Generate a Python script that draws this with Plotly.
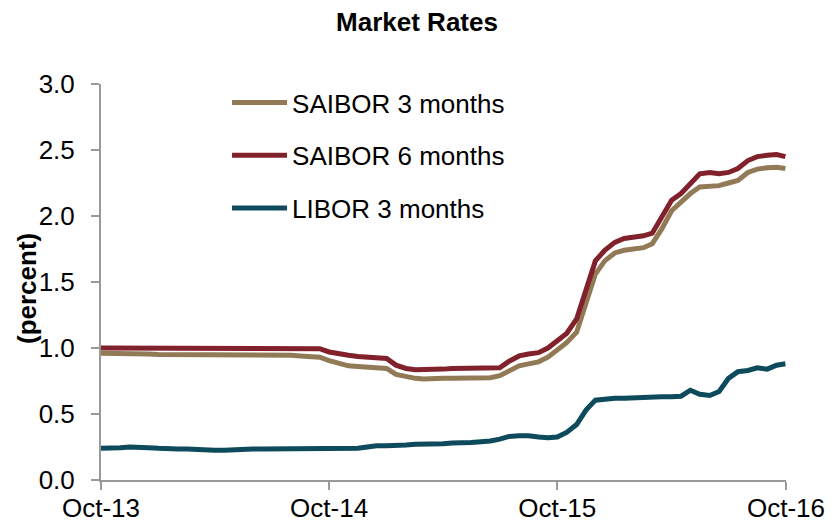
import plotly.graph_objects as go

dates = [
    "2013-10-01", "2013-10-16", "2013-11-01", "2013-11-16", "2013-12-01", "2013-12-16",
    "2014-01-01", "2014-01-16", "2014-02-01", "2014-02-16", "2014-03-01", "2014-03-16",
    "2014-04-01", "2014-04-16", "2014-05-01", "2014-05-16", "2014-06-01", "2014-06-16",
    "2014-07-01", "2014-07-16", "2014-08-01", "2014-08-16", "2014-09-01", "2014-09-16",
    "2014-10-01", "2014-10-16", "2014-11-01", "2014-11-16", "2014-12-01", "2014-12-16",
    "2015-01-01", "2015-01-16", "2015-02-01", "2015-02-16", "2015-03-01", "2015-03-16",
    "2015-04-01", "2015-04-16", "2015-05-01", "2015-05-16", "2015-06-01", "2015-06-16",
    "2015-07-01", "2015-07-16", "2015-08-01", "2015-08-16", "2015-09-01", "2015-09-16",
    "2015-10-01", "2015-10-16", "2015-11-01", "2015-11-16", "2015-12-01", "2015-12-16",
    "2016-01-01", "2016-01-16", "2016-02-01", "2016-02-16", "2016-03-01", "2016-03-16",
    "2016-04-01", "2016-04-16", "2016-05-01", "2016-05-16", "2016-06-01", "2016-06-16",
    "2016-07-01", "2016-07-16", "2016-08-01", "2016-08-16", "2016-09-01", "2016-09-16",
    "2016-09-30",
]

saibor_3m = [
    0.96, 0.96, 0.96, 0.96, 0.955, 0.955,
    0.95, 0.95, 0.95, 0.95, 0.95, 0.95,
    0.95, 0.95, 0.95, 0.95, 0.95, 0.95,
    0.95, 0.945, 0.945, 0.94, 0.935, 0.93,
    0.905, 0.885, 0.865, 0.86, 0.855, 0.855,
    0.845, 0.80, 0.78, 0.77, 0.765, 0.77,
    0.77, 0.77, 0.77, 0.775, 0.775, 0.775,
    0.79, 0.83, 0.865, 0.88, 0.895, 0.93,
    0.985, 1.04, 1.12, 1.35, 1.56, 1.66,
    1.72, 1.74, 1.75, 1.76, 1.79, 1.90,
    2.04, 2.11, 2.17, 2.22, 2.23, 2.23,
    2.25, 2.27, 2.33, 2.355, 2.365, 2.37,
    2.36,
]

saibor_6m = [
    1.00, 1.00, 1.00, 1.00, 1.00, 1.00,
    1.00, 1.00, 1.00, 1.00, 1.00, 1.00,
    1.00, 1.00, 1.00, 1.00, 1.00, 1.00,
    1.00, 1.00, 1.00, 1.00, 1.00, 0.995,
    0.97, 0.955, 0.945, 0.935, 0.93, 0.93,
    0.92, 0.87, 0.845, 0.835, 0.835, 0.84,
    0.84, 0.845, 0.845, 0.845, 0.845, 0.845,
    0.85, 0.90, 0.94, 0.955, 0.965, 1.00,
    1.06, 1.11, 1.22, 1.45, 1.66, 1.74,
    1.80, 1.83, 1.84, 1.85, 1.87, 1.99,
    2.12, 2.17, 2.25, 2.32, 2.33, 2.32,
    2.33, 2.36, 2.42, 2.45, 2.46, 2.465,
    2.45,
]

libor_3m = [
    0.24, 0.24, 0.245, 0.25, 0.25, 0.245,
    0.24, 0.235, 0.235, 0.235, 0.23, 0.23,
    0.225, 0.225, 0.23, 0.23, 0.235, 0.235,
    0.235, 0.235, 0.235, 0.235, 0.235, 0.235,
    0.235, 0.24, 0.24, 0.24, 0.25, 0.26,
    0.26, 0.26, 0.265, 0.27, 0.27, 0.275,
    0.275, 0.28, 0.28, 0.285, 0.29, 0.295,
    0.31, 0.33, 0.335, 0.335, 0.325, 0.32,
    0.325, 0.36, 0.42, 0.53, 0.605, 0.615,
    0.62, 0.62, 0.625, 0.63, 0.63, 0.63,
    0.63, 0.635, 0.68, 0.65, 0.64, 0.67,
    0.77, 0.82, 0.83, 0.85, 0.84, 0.87,
    0.88,
]

tick_dates = ["2013-10-01", "2014-10-01", "2015-10-01", "2016-10-01"]
tick_labels = ["Oct-13", "Oct-14", "Oct-15", "Oct-16"]

FONT = "Liberation Sans, Arial, sans-serif"
AXIS_GREY = "#999999"
FS = 26

series = [
    ("SAIBOR 3 months", saibor_3m, "#927A57"),
    ("SAIBOR 6 months", saibor_6m, "#80212C"),
    ("LIBOR 3 months", libor_3m, "#0C4A5C"),
]

fig = go.Figure()
for i, (name, vals, color) in enumerate(series):
    fig.add_trace(go.Scatter(
        x=dates, y=vals, name=name, mode="lines",
        line=dict(color=color, width=5),
        legendgroup=f"g{i}",
    ))

fig.update_layout(
    width=834, height=524, autosize=False,
    margin=dict(l=101, r=48, t=84, b=44, autoexpand=False),
    paper_bgcolor="white", plot_bgcolor="white",
    font=dict(family=FONT, size=FS, color="black"),
    title=dict(text="<b>Market Rates</b>", x=0.5, xref="container", xanchor="center",
               y=1 - 22 / 524, yref="container", yanchor="middle",
               font=dict(family=FONT, size=FS, color="black")),
    showlegend=True,
    legend=dict(x=0.184, y=1.0126, xanchor="left", yanchor="top",
                bgcolor="rgba(0,0,0,0)", font=dict(family=FONT, size=FS, color="black"),
                tracegroupgap=16, itemwidth=55),
    xaxis=dict(type="date", range=["2013-10-01", "2016-10-01"], automargin=False,
               tickmode="array", tickvals=tick_dates, ticktext=tick_labels,
               ticklabelstandoff=-4,
               showline=True, linecolor=AXIS_GREY, linewidth=2,
               ticks="outside", ticklen=8, tickwidth=2, tickcolor=AXIS_GREY,
               showgrid=False, zeroline=False,
               tickfont=dict(family=FONT, size=FS, color="black")),
    yaxis=dict(range=[0, 3], tickmode="linear", tick0=0, dtick=0.5, tickformat=".1f",
               automargin=False, ticklabelstandoff=11,
               showline=True, linecolor=AXIS_GREY, linewidth=2,
               ticks="outside", ticklen=8, tickwidth=2, tickcolor=AXIS_GREY,
               showgrid=False, zeroline=False,
               tickfont=dict(family=FONT, size=FS, color="black")),
    annotations=[dict(text="<b>(percent)</b>", textangle=-90,
                      xref="paper", yref="paper",
                      x=(27 - 101) / 685, y=(480 - 289) / 396,
                      xanchor="center", yanchor="middle", showarrow=False,
                      font=dict(family=FONT, size=FS, color="black"))],
)

fig.write_html("out.html", config={"displayModeBar": False},
               post_script="document.body.style.margin='0px';")
